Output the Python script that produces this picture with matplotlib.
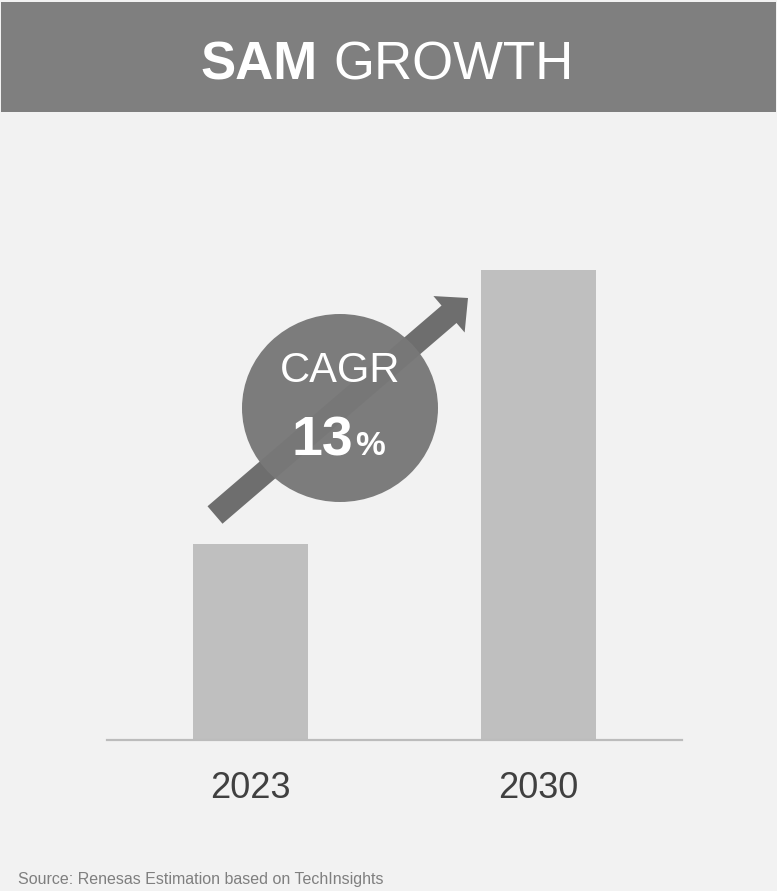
import matplotlib.pyplot as plt
from matplotlib.patches import Rectangle, Ellipse, FancyArrow

# data (relative SAM, 2023 = 1.0)
years = ["2023", "2030"]
sam = [1.0, 2.4]
cagr_text = "13"

W, H = 777, 891
BG = "#f2f2f2"

fig = plt.figure(figsize=(W / 100, H / 100), dpi=100)
fig.patch.set_facecolor(BG)
plt.rcParams['font.family'] = ['Liberation Sans', 'DejaVu Sans']

# --- bar axes (pixel box: x 107..682, y 152..740 from top) ---
ax = fig.add_axes([107 / W, (H - 740) / H, 575 / W, 588 / H])
ax.set_facecolor("none")
ax.bar(range(len(years)), sam, width=0.4, color="#bfbfbf", zorder=2)
ax.set_xlim(-0.5, 1.5)
ax.set_ylim(0, 3)
ax.set_xticks(range(len(years)))
ax.set_xticklabels(years, fontsize=26, color="#404040")
ax.tick_params(axis='x', length=0, pad=22)
ax.set_yticks([])
for s in ["top", "left", "right"]:
    ax.spines[s].set_visible(False)
ax.spines["bottom"].set_color("#bcbcbc")
ax.spines["bottom"].set_linewidth(1.6)

# --- overlay in pixel coords ---
ov = fig.add_axes([0, 0, 1, 1], zorder=3)
ov.set_xlim(0, W)
ov.set_ylim(H, 0)
ov.axis("off")
ov.patch.set_alpha(0)

ov.add_patch(Rectangle((1, 2), 775, 110, color="#7f7f7f", lw=0))
ov.text(318, 80, "SAM", ha="right", va="baseline", fontsize=38,
        fontweight="bold", color="white")
ov.text(333, 80, "GROWTH", ha="left", va="baseline", fontsize=38, color="white")

# arrow then circle
ov.add_patch(FancyArrow(215, 515, 253, -217, width=23, head_width=48,
                        head_length=25, length_includes_head=True,
                        color="#6e6e6e", lw=0))
ov.add_patch(Ellipse((340, 408), 196, 188, color="#787878", alpha=0.97, lw=0))

ov.text(340, 382, "CAGR", ha="center", va="baseline", fontsize=30, color="white")
ov.text(353, 455, cagr_text, ha="right", va="baseline", fontsize=40,
        fontweight="bold", color="white")
ov.text(355, 455, "%", ha="left", va="baseline", fontsize=24,
        fontweight="bold", color="white")

ov.text(18, 884, "Source: Renesas Estimation based on TechInsights", ha="left",
        va="baseline", fontsize=11.5, color="#7f7f7f")

fig.savefig("out.png", dpi=100, facecolor=BG)
